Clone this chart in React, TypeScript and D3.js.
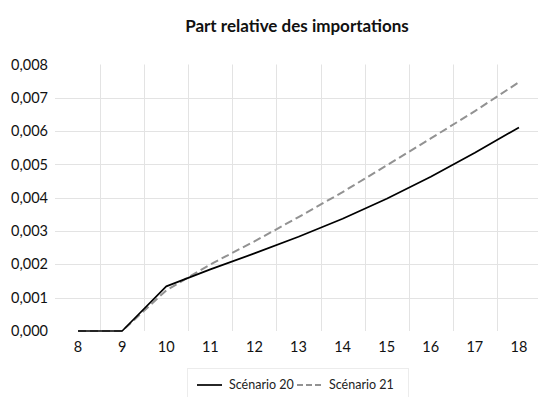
import { useEffect, useRef } from "react";
import * as d3 from "d3";

// ---------------------------------------------------------------------------
// Data
// ---------------------------------------------------------------------------

const years = [8, 9, 10, 11, 12, 13, 14, 15, 16, 17, 18];
const scenario20 = [0, 0, 0.00134, 0.00185, 0.00233, 0.00283, 0.00337, 0.00397, 0.00463, 0.00535, 0.00611];
const scenario21 = [0, 0, 0.00122, 0.002, 0.00269, 0.00342, 0.00417, 0.00497, 0.00578, 0.0066, 0.00747];
const yTicks = [0, 0.001, 0.002, 0.003, 0.004, 0.005, 0.006, 0.007, 0.008];

const series = [
  { name: "Scénario 20", values: scenario20, color: "#000000", dash: "" },
  { name: "Scénario 21", values: scenario21, color: "#929292", dash: "8,4" },
];

const FONT = "Lato, 'Open Sans', sans-serif";

export default function App() {
  const svgRef = useRef<SVGSVGElement>(null);
  const width = 538;
  const height = 397;

  useEffect(() => {
    const svg = d3.select(svgRef.current);
    svg.selectAll("*").remove();

    const plot = { left: 56, right: 541, top: 64.5, bottom: 331 };

    const x = d3
      .scaleBand<number>()
      .domain(years)
      .range([plot.left, plot.right]);
    const xc = (d: number) => (x(d) ?? 0) + x.bandwidth() / 2;

    const y = d3.scaleLinear().domain([0, 0.008]).range([plot.bottom, plot.top]);

    // ---- Title ----
    svg
      .append("text")
      .attr("x", 297)
      .attr("y", 32)
      .attr("text-anchor", "middle")
      .attr("font-family", FONT)
      .attr("font-weight", "bold")
      .attr("font-size", 17)
      .attr("fill", "#111")
      .text("Part relative des importations");

    // ---- Grid ----
    const grid = svg.append("g");
    yTicks.slice(1, -1).forEach((t) => {
      grid
        .append("line")
        .attr("x1", plot.left - 1)
        .attr("x2", width)
        .attr("y1", Math.round(y(t)) + 0.5)
        .attr("y2", Math.round(y(t)) + 0.5)
        .attr("stroke", "#e3e3e3")
        .attr("stroke-width", 1);
    });
    years.slice(1).forEach((d) => {
      const gx = Math.round(x(d) ?? 0) + 0.5;
      grid
        .append("line")
        .attr("x1", gx)
        .attr("x2", gx)
        .attr("y1", plot.top)
        .attr("y2", plot.bottom)
        .attr("stroke", "#e3e3e3")
        .attr("stroke-width", 1);
    });

    // ---- Y labels ----
    svg
      .append("g")
      .selectAll("text")
      .data(yTicks)
      .join("text")
      .attr("x", 48)
      .attr("y", (d) => y(d))
      .attr("dy", "0.35em")
      .attr("text-anchor", "end")
      .attr("font-family", FONT)
      .attr("font-size", 14.5)
      .attr("fill", "#111")
      .text((d) => d3.format(".3f")(d).replace(".", ","));

    // ---- X labels ----
    svg
      .append("g")
      .selectAll("text")
      .data(years)
      .join("text")
      .attr("x", (d) => xc(d))
      .attr("y", 352)
      .attr("text-anchor", "middle")
      .attr("font-family", FONT)
      .attr("font-size", 14.5)
      .attr("fill", "#111")
      .text((d) => String(d));

    // ---- Lines ----
    const line = d3
      .line<number>()
      .x((_d, i) => xc(years[i]))
      .y((d) => y(d));

    [...series].reverse().forEach((s) => {
      svg
        .append("path")
        .attr("d", line(s.values) ?? "")
        .attr("fill", "none")
        .attr("stroke", s.color)
        .attr("stroke-width", s.dash ? 2 : 1.7)
        .attr("stroke-dasharray", s.dash || null)
        .attr("stroke-linejoin", "round");
    });

    // ---- Legend ----
    const lg = svg.append("g");
    lg.append("rect")
      .attr("x", 187.5)
      .attr("y", 368.5)
      .attr("width", 221)
      .attr("height", 32)
      .attr("fill", "none")
      .attr("stroke", "#ececec");

    const legendX = [197, 297];
    series.forEach((s, i) => {
      const lx = legendX[i];
      lg.append("line")
        .attr("x1", lx)
        .attr("x2", lx + 25)
        .attr("y1", 385)
        .attr("y2", 385)
        .attr("stroke", s.color)
        .attr("stroke-width", s.dash ? 2 : 1.7)
        .attr("stroke-dasharray", s.dash ? "6,3" : null);
      lg.append("text")
        .attr("x", lx + 32)
        .attr("y", 385)
        .attr("dy", "0.35em")
        .attr("font-family", FONT)
        .attr("font-size", 12.5)
        .attr("fill", "#222")
        .text(s.name);
    });
  }, []);

  return (
    <svg
      ref={svgRef}
      width={width}
      height={height}
      style={{ position: "absolute", left: 0, top: 0, background: "#fff" }}
    />
  );
}
